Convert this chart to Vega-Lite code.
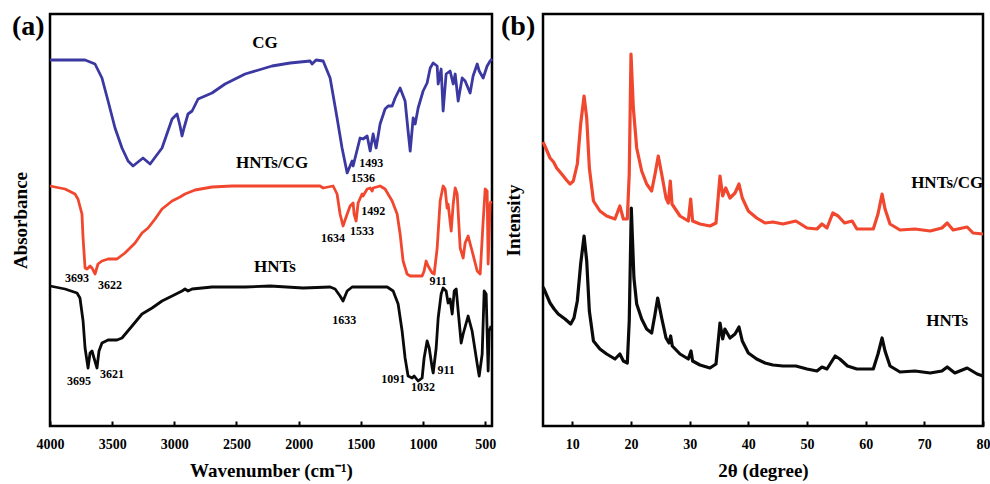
{
  "$schema": "https://vega.github.io/schema/vega-lite/v6.json",
  "background": "white",
  "padding": {"left": 9, "top": 11, "right": 5, "bottom": 5},
  "bounds": "flush",
  "spacing": 51,
  "config": {
    "view": {"stroke": "black", "strokeWidth": 2.5},
    "font": "Liberation Serif",
    "axis": {
      "grid": false,
      "domain": false,
      "labelFont": "Liberation Serif",
      "labelFontWeight": "bold",
      "labelFontSize": 14,
      "labelColor": "black",
      "titleFont": "Liberation Serif",
      "titleFontWeight": "bold",
      "titleFontSize": 19,
      "titleColor": "black"
    },
    "title": {"font": "Liberation Serif", "fontWeight": "bold", "fontSize": 28, "color": "black"}
  },
  "datasets": {
    "ftir": [
      {"wavenumber": 4000, "absorbance": 366, "sample": "CG"},
      {"wavenumber": 3718, "absorbance": 366, "sample": "CG"},
      {"wavenumber": 3638, "absorbance": 362, "sample": "CG"},
      {"wavenumber": 3582, "absorbance": 348, "sample": "CG"},
      {"wavenumber": 3533, "absorbance": 325, "sample": "CG"},
      {"wavenumber": 3477, "absorbance": 298, "sample": "CG"},
      {"wavenumber": 3421, "absorbance": 278, "sample": "CG"},
      {"wavenumber": 3372, "absorbance": 265, "sample": "CG"},
      {"wavenumber": 3332, "absorbance": 260, "sample": "CG"},
      {"wavenumber": 3252, "absorbance": 268, "sample": "CG"},
      {"wavenumber": 3195, "absorbance": 262, "sample": "CG"},
      {"wavenumber": 3147, "absorbance": 270, "sample": "CG"},
      {"wavenumber": 3099, "absorbance": 278, "sample": "CG"},
      {"wavenumber": 3018, "absorbance": 307, "sample": "CG"},
      {"wavenumber": 2978, "absorbance": 312, "sample": "CG"},
      {"wavenumber": 2954, "absorbance": 300, "sample": "CG"},
      {"wavenumber": 2938, "absorbance": 290, "sample": "CG"},
      {"wavenumber": 2922, "absorbance": 298, "sample": "CG"},
      {"wavenumber": 2890, "absorbance": 312, "sample": "CG"},
      {"wavenumber": 2857, "absorbance": 315, "sample": "CG"},
      {"wavenumber": 2809, "absorbance": 327, "sample": "CG"},
      {"wavenumber": 2697, "absorbance": 333, "sample": "CG"},
      {"wavenumber": 2592, "absorbance": 342, "sample": "CG"},
      {"wavenumber": 2431, "absorbance": 352, "sample": "CG"},
      {"wavenumber": 2214, "absorbance": 360, "sample": "CG"},
      {"wavenumber": 2069, "absorbance": 363, "sample": "CG"},
      {"wavenumber": 1908, "absorbance": 365, "sample": "CG"},
      {"wavenumber": 1892, "absorbance": 362, "sample": "CG"},
      {"wavenumber": 1860, "absorbance": 366, "sample": "CG"},
      {"wavenumber": 1803, "absorbance": 365, "sample": "CG"},
      {"wavenumber": 1747, "absorbance": 348, "sample": "CG"},
      {"wavenumber": 1691, "absorbance": 308, "sample": "CG"},
      {"wavenumber": 1651, "absorbance": 278, "sample": "CG"},
      {"wavenumber": 1610, "absorbance": 253, "sample": "CG"},
      {"wavenumber": 1570, "absorbance": 265, "sample": "CG"},
      {"wavenumber": 1562, "absorbance": 260, "sample": "CG"},
      {"wavenumber": 1506, "absorbance": 288, "sample": "CG"},
      {"wavenumber": 1482, "absorbance": 287, "sample": "CG"},
      {"wavenumber": 1449, "absorbance": 290, "sample": "CG"},
      {"wavenumber": 1425, "absorbance": 275, "sample": "CG"},
      {"wavenumber": 1401, "absorbance": 292, "sample": "CG"},
      {"wavenumber": 1377, "absorbance": 278, "sample": "CG"},
      {"wavenumber": 1345, "absorbance": 302, "sample": "CG"},
      {"wavenumber": 1305, "absorbance": 317, "sample": "CG"},
      {"wavenumber": 1280, "absorbance": 320, "sample": "CG"},
      {"wavenumber": 1248, "absorbance": 320, "sample": "CG"},
      {"wavenumber": 1224, "absorbance": 328, "sample": "CG"},
      {"wavenumber": 1184, "absorbance": 338, "sample": "CG"},
      {"wavenumber": 1144, "absorbance": 325, "sample": "CG"},
      {"wavenumber": 1120, "absorbance": 295, "sample": "CG"},
      {"wavenumber": 1103, "absorbance": 275, "sample": "CG"},
      {"wavenumber": 1079, "absorbance": 308, "sample": "CG"},
      {"wavenumber": 1063, "absorbance": 302, "sample": "CG"},
      {"wavenumber": 1039, "absorbance": 318, "sample": "CG"},
      {"wavenumber": 999, "absorbance": 335, "sample": "CG"},
      {"wavenumber": 967, "absorbance": 343, "sample": "CG"},
      {"wavenumber": 942, "absorbance": 358, "sample": "CG"},
      {"wavenumber": 918, "absorbance": 363, "sample": "CG"},
      {"wavenumber": 886, "absorbance": 360, "sample": "CG"},
      {"wavenumber": 878, "absorbance": 342, "sample": "CG"},
      {"wavenumber": 854, "absorbance": 357, "sample": "CG"},
      {"wavenumber": 838, "absorbance": 315, "sample": "CG"},
      {"wavenumber": 814, "absorbance": 352, "sample": "CG"},
      {"wavenumber": 782, "absorbance": 355, "sample": "CG"},
      {"wavenumber": 757, "absorbance": 342, "sample": "CG"},
      {"wavenumber": 741, "absorbance": 352, "sample": "CG"},
      {"wavenumber": 717, "absorbance": 325, "sample": "CG"},
      {"wavenumber": 685, "absorbance": 348, "sample": "CG"},
      {"wavenumber": 661, "absorbance": 345, "sample": "CG"},
      {"wavenumber": 621, "absorbance": 333, "sample": "CG"},
      {"wavenumber": 597, "absorbance": 350, "sample": "CG"},
      {"wavenumber": 564, "absorbance": 362, "sample": "CG"},
      {"wavenumber": 548, "absorbance": 355, "sample": "CG"},
      {"wavenumber": 516, "absorbance": 348, "sample": "CG"},
      {"wavenumber": 484, "absorbance": 360, "sample": "CG"},
      {"wavenumber": 460, "absorbance": 365, "sample": "CG"},
      {"wavenumber": 445, "absorbance": 367, "sample": "CG"},

      {"wavenumber": 4000, "absorbance": 240, "sample": "HNTs/CG"},
      {"wavenumber": 3879, "absorbance": 237, "sample": "HNTs/CG"},
      {"wavenumber": 3799, "absorbance": 232, "sample": "HNTs/CG"},
      {"wavenumber": 3775, "absorbance": 227, "sample": "HNTs/CG"},
      {"wavenumber": 3743, "absorbance": 212, "sample": "HNTs/CG"},
      {"wavenumber": 3734, "absorbance": 188, "sample": "HNTs/CG"},
      {"wavenumber": 3718, "absorbance": 158, "sample": "HNTs/CG"},
      {"wavenumber": 3702, "absorbance": 157, "sample": "HNTs/CG"},
      {"wavenumber": 3678, "absorbance": 160, "sample": "HNTs/CG"},
      {"wavenumber": 3662, "absorbance": 158, "sample": "HNTs/CG"},
      {"wavenumber": 3638, "absorbance": 152, "sample": "HNTs/CG"},
      {"wavenumber": 3614, "absorbance": 162, "sample": "HNTs/CG"},
      {"wavenumber": 3582, "absorbance": 165, "sample": "HNTs/CG"},
      {"wavenumber": 3533, "absorbance": 167, "sample": "HNTs/CG"},
      {"wavenumber": 3461, "absorbance": 167, "sample": "HNTs/CG"},
      {"wavenumber": 3397, "absorbance": 173, "sample": "HNTs/CG"},
      {"wavenumber": 3316, "absorbance": 183, "sample": "HNTs/CG"},
      {"wavenumber": 3260, "absorbance": 193, "sample": "HNTs/CG"},
      {"wavenumber": 3211, "absorbance": 198, "sample": "HNTs/CG"},
      {"wavenumber": 3155, "absorbance": 207, "sample": "HNTs/CG"},
      {"wavenumber": 3099, "absorbance": 217, "sample": "HNTs/CG"},
      {"wavenumber": 3018, "absorbance": 225, "sample": "HNTs/CG"},
      {"wavenumber": 2954, "absorbance": 229, "sample": "HNTs/CG"},
      {"wavenumber": 2914, "absorbance": 232, "sample": "HNTs/CG"},
      {"wavenumber": 2833, "absorbance": 236, "sample": "HNTs/CG"},
      {"wavenumber": 2697, "absorbance": 239, "sample": "HNTs/CG"},
      {"wavenumber": 2536, "absorbance": 240, "sample": "HNTs/CG"},
      {"wavenumber": 2230, "absorbance": 240, "sample": "HNTs/CG"},
      {"wavenumber": 1828, "absorbance": 240, "sample": "HNTs/CG"},
      {"wavenumber": 1803, "absorbance": 238, "sample": "HNTs/CG"},
      {"wavenumber": 1723, "absorbance": 240, "sample": "HNTs/CG"},
      {"wavenumber": 1691, "absorbance": 232, "sample": "HNTs/CG"},
      {"wavenumber": 1667, "absorbance": 212, "sample": "HNTs/CG"},
      {"wavenumber": 1643, "absorbance": 200, "sample": "HNTs/CG"},
      {"wavenumber": 1610, "absorbance": 212, "sample": "HNTs/CG"},
      {"wavenumber": 1586, "absorbance": 220, "sample": "HNTs/CG"},
      {"wavenumber": 1562, "absorbance": 223, "sample": "HNTs/CG"},
      {"wavenumber": 1554, "absorbance": 212, "sample": "HNTs/CG"},
      {"wavenumber": 1538, "absorbance": 205, "sample": "HNTs/CG"},
      {"wavenumber": 1522, "absorbance": 223, "sample": "HNTs/CG"},
      {"wavenumber": 1490, "absorbance": 232, "sample": "HNTs/CG"},
      {"wavenumber": 1482, "absorbance": 230, "sample": "HNTs/CG"},
      {"wavenumber": 1449, "absorbance": 237, "sample": "HNTs/CG"},
      {"wavenumber": 1425, "absorbance": 238, "sample": "HNTs/CG"},
      {"wavenumber": 1409, "absorbance": 235, "sample": "HNTs/CG"},
      {"wavenumber": 1401, "absorbance": 238, "sample": "HNTs/CG"},
      {"wavenumber": 1345, "absorbance": 240, "sample": "HNTs/CG"},
      {"wavenumber": 1305, "absorbance": 237, "sample": "HNTs/CG"},
      {"wavenumber": 1248, "absorbance": 225, "sample": "HNTs/CG"},
      {"wavenumber": 1208, "absorbance": 212, "sample": "HNTs/CG"},
      {"wavenumber": 1184, "absorbance": 192, "sample": "HNTs/CG"},
      {"wavenumber": 1160, "absorbance": 165, "sample": "HNTs/CG"},
      {"wavenumber": 1128, "absorbance": 152, "sample": "HNTs/CG"},
      {"wavenumber": 1103, "absorbance": 150, "sample": "HNTs/CG"},
      {"wavenumber": 1007, "absorbance": 150, "sample": "HNTs/CG"},
      {"wavenumber": 991, "absorbance": 155, "sample": "HNTs/CG"},
      {"wavenumber": 975, "absorbance": 165, "sample": "HNTs/CG"},
      {"wavenumber": 959, "absorbance": 160, "sample": "HNTs/CG"},
      {"wavenumber": 926, "absorbance": 153, "sample": "HNTs/CG"},
      {"wavenumber": 910, "absorbance": 152, "sample": "HNTs/CG"},
      {"wavenumber": 886, "absorbance": 178, "sample": "HNTs/CG"},
      {"wavenumber": 862, "absorbance": 225, "sample": "HNTs/CG"},
      {"wavenumber": 838, "absorbance": 240, "sample": "HNTs/CG"},
      {"wavenumber": 822, "absorbance": 237, "sample": "HNTs/CG"},
      {"wavenumber": 806, "absorbance": 218, "sample": "HNTs/CG"},
      {"wavenumber": 798, "absorbance": 222, "sample": "HNTs/CG"},
      {"wavenumber": 773, "absorbance": 195, "sample": "HNTs/CG"},
      {"wavenumber": 757, "absorbance": 222, "sample": "HNTs/CG"},
      {"wavenumber": 741, "absorbance": 238, "sample": "HNTs/CG"},
      {"wavenumber": 725, "absorbance": 232, "sample": "HNTs/CG"},
      {"wavenumber": 701, "absorbance": 178, "sample": "HNTs/CG"},
      {"wavenumber": 677, "absorbance": 168, "sample": "HNTs/CG"},
      {"wavenumber": 661, "absorbance": 183, "sample": "HNTs/CG"},
      {"wavenumber": 637, "absorbance": 190, "sample": "HNTs/CG"},
      {"wavenumber": 605, "absorbance": 175, "sample": "HNTs/CG"},
      {"wavenumber": 564, "absorbance": 155, "sample": "HNTs/CG"},
      {"wavenumber": 540, "absorbance": 152, "sample": "HNTs/CG"},
      {"wavenumber": 516, "absorbance": 205, "sample": "HNTs/CG"},
      {"wavenumber": 500, "absorbance": 237, "sample": "HNTs/CG"},
      {"wavenumber": 484, "absorbance": 235, "sample": "HNTs/CG"},
      {"wavenumber": 476, "absorbance": 162, "sample": "HNTs/CG"},
      {"wavenumber": 460, "absorbance": 222, "sample": "HNTs/CG"},
      {"wavenumber": 452, "absorbance": 225, "sample": "HNTs/CG"},

      {"wavenumber": 4000, "absorbance": 140, "sample": "HNTs"},
      {"wavenumber": 3879, "absorbance": 137, "sample": "HNTs"},
      {"wavenumber": 3783, "absorbance": 133, "sample": "HNTs"},
      {"wavenumber": 3759, "absorbance": 128, "sample": "HNTs"},
      {"wavenumber": 3734, "absorbance": 105, "sample": "HNTs"},
      {"wavenumber": 3718, "absorbance": 78, "sample": "HNTs"},
      {"wavenumber": 3694, "absorbance": 58, "sample": "HNTs"},
      {"wavenumber": 3678, "absorbance": 73, "sample": "HNTs"},
      {"wavenumber": 3662, "absorbance": 75, "sample": "HNTs"},
      {"wavenumber": 3646, "absorbance": 68, "sample": "HNTs"},
      {"wavenumber": 3622, "absorbance": 58, "sample": "HNTs"},
      {"wavenumber": 3606, "absorbance": 75, "sample": "HNTs"},
      {"wavenumber": 3582, "absorbance": 83, "sample": "HNTs"},
      {"wavenumber": 3533, "absorbance": 86, "sample": "HNTs"},
      {"wavenumber": 3461, "absorbance": 86, "sample": "HNTs"},
      {"wavenumber": 3421, "absorbance": 88, "sample": "HNTs"},
      {"wavenumber": 3340, "absorbance": 100, "sample": "HNTs"},
      {"wavenumber": 3260, "absorbance": 112, "sample": "HNTs"},
      {"wavenumber": 3179, "absorbance": 118, "sample": "HNTs"},
      {"wavenumber": 3099, "absorbance": 125, "sample": "HNTs"},
      {"wavenumber": 3018, "absorbance": 130, "sample": "HNTs"},
      {"wavenumber": 2938, "absorbance": 135, "sample": "HNTs"},
      {"wavenumber": 2914, "absorbance": 137, "sample": "HNTs"},
      {"wavenumber": 2890, "absorbance": 135, "sample": "HNTs"},
      {"wavenumber": 2857, "absorbance": 137, "sample": "HNTs"},
      {"wavenumber": 2697, "absorbance": 139, "sample": "HNTs"},
      {"wavenumber": 2431, "absorbance": 139, "sample": "HNTs"},
      {"wavenumber": 2230, "absorbance": 140, "sample": "HNTs"},
      {"wavenumber": 1964, "absorbance": 138, "sample": "HNTs"},
      {"wavenumber": 1747, "absorbance": 139, "sample": "HNTs"},
      {"wavenumber": 1707, "absorbance": 137, "sample": "HNTs"},
      {"wavenumber": 1667, "absorbance": 130, "sample": "HNTs"},
      {"wavenumber": 1643, "absorbance": 125, "sample": "HNTs"},
      {"wavenumber": 1610, "absorbance": 135, "sample": "HNTs"},
      {"wavenumber": 1570, "absorbance": 139, "sample": "HNTs"},
      {"wavenumber": 1288, "absorbance": 139, "sample": "HNTs"},
      {"wavenumber": 1240, "absorbance": 135, "sample": "HNTs"},
      {"wavenumber": 1200, "absorbance": 122, "sample": "HNTs"},
      {"wavenumber": 1168, "absorbance": 95, "sample": "HNTs"},
      {"wavenumber": 1144, "absorbance": 68, "sample": "HNTs"},
      {"wavenumber": 1120, "absorbance": 50, "sample": "HNTs"},
      {"wavenumber": 1087, "absorbance": 48, "sample": "HNTs"},
      {"wavenumber": 1071, "absorbance": 50, "sample": "HNTs"},
      {"wavenumber": 1039, "absorbance": 45, "sample": "HNTs"},
      {"wavenumber": 1007, "absorbance": 48, "sample": "HNTs"},
      {"wavenumber": 991, "absorbance": 68, "sample": "HNTs"},
      {"wavenumber": 967, "absorbance": 85, "sample": "HNTs"},
      {"wavenumber": 950, "absorbance": 78, "sample": "HNTs"},
      {"wavenumber": 926, "absorbance": 58, "sample": "HNTs"},
      {"wavenumber": 918, "absorbance": 53, "sample": "HNTs"},
      {"wavenumber": 894, "absorbance": 78, "sample": "HNTs"},
      {"wavenumber": 878, "absorbance": 108, "sample": "HNTs"},
      {"wavenumber": 854, "absorbance": 132, "sample": "HNTs"},
      {"wavenumber": 838, "absorbance": 138, "sample": "HNTs"},
      {"wavenumber": 814, "absorbance": 135, "sample": "HNTs"},
      {"wavenumber": 798, "absorbance": 123, "sample": "HNTs"},
      {"wavenumber": 782, "absorbance": 127, "sample": "HNTs"},
      {"wavenumber": 765, "absorbance": 112, "sample": "HNTs"},
      {"wavenumber": 749, "absorbance": 135, "sample": "HNTs"},
      {"wavenumber": 733, "absorbance": 137, "sample": "HNTs"},
      {"wavenumber": 717, "absorbance": 115, "sample": "HNTs"},
      {"wavenumber": 693, "absorbance": 83, "sample": "HNTs"},
      {"wavenumber": 677, "absorbance": 92, "sample": "HNTs"},
      {"wavenumber": 637, "absorbance": 110, "sample": "HNTs"},
      {"wavenumber": 605, "absorbance": 95, "sample": "HNTs"},
      {"wavenumber": 564, "absorbance": 62, "sample": "HNTs"},
      {"wavenumber": 548, "absorbance": 50, "sample": "HNTs"},
      {"wavenumber": 524, "absorbance": 72, "sample": "HNTs"},
      {"wavenumber": 508, "absorbance": 135, "sample": "HNTs"},
      {"wavenumber": 492, "absorbance": 132, "sample": "HNTs"},
      {"wavenumber": 476, "absorbance": 55, "sample": "HNTs"},
      {"wavenumber": 468, "absorbance": 95, "sample": "HNTs"},
      {"wavenumber": 452, "absorbance": 100, "sample": "HNTs"}
    ],
    "ftirPeaks": [
      {"wavenumber": 1417, "absorbance": 263, "label": "1493"},
      {"wavenumber": 1482, "absorbance": 248, "label": "1536"},
      {"wavenumber": 1401, "absorbance": 215, "label": "1492"},
      {"wavenumber": 1490, "absorbance": 195, "label": "1533"},
      {"wavenumber": 1723, "absorbance": 188, "label": "1634"},
      {"wavenumber": 3783, "absorbance": 148, "label": "3693"},
      {"wavenumber": 3517, "absorbance": 141, "label": "3622"},
      {"wavenumber": 878, "absorbance": 145, "label": "911"},
      {"wavenumber": 1634, "absorbance": 106, "label": "1633"},
      {"wavenumber": 3767, "absorbance": 45, "label": "3695"},
      {"wavenumber": 3501, "absorbance": 52, "label": "3621"},
      {"wavenumber": 1240, "absorbance": 47, "label": "1091"},
      {"wavenumber": 999, "absorbance": 39, "label": "1032"},
      {"wavenumber": 814, "absorbance": 56, "label": "911"}
    ],
    "ftirNames": [
      {"wavenumber": 2270, "absorbance": 383, "label": "CG"},
      {"wavenumber": 2214, "absorbance": 263, "label": "HNTs/CG"},
      {"wavenumber": 2190, "absorbance": 159, "label": "HNTs"}
    ],
    "xrd": [
      {"theta": 5.0, "intensity": 284, "sample": "HNTs/CG"},
      {"theta": 5.17, "intensity": 282, "sample": "HNTs/CG"},
      {"theta": 6.2, "intensity": 268, "sample": "HNTs/CG"},
      {"theta": 6.8, "intensity": 264, "sample": "HNTs/CG"},
      {"theta": 7.33, "intensity": 258, "sample": "HNTs/CG"},
      {"theta": 7.9, "intensity": 254, "sample": "HNTs/CG"},
      {"theta": 8.46, "intensity": 250, "sample": "HNTs/CG"},
      {"theta": 9.0, "intensity": 246, "sample": "HNTs/CG"},
      {"theta": 9.6, "intensity": 242, "sample": "HNTs/CG"},
      {"theta": 10.17, "intensity": 245, "sample": "HNTs/CG"},
      {"theta": 10.85, "intensity": 262, "sample": "HNTs/CG"},
      {"theta": 11.42, "intensity": 302, "sample": "HNTs/CG"},
      {"theta": 12.0, "intensity": 330, "sample": "HNTs/CG"},
      {"theta": 12.45, "intensity": 308, "sample": "HNTs/CG"},
      {"theta": 12.9, "intensity": 258, "sample": "HNTs/CG"},
      {"theta": 13.6, "intensity": 225, "sample": "HNTs/CG"},
      {"theta": 14.7, "intensity": 215, "sample": "HNTs/CG"},
      {"theta": 15.85, "intensity": 210, "sample": "HNTs/CG"},
      {"theta": 17.27, "intensity": 207, "sample": "HNTs/CG"},
      {"theta": 18.1, "intensity": 220, "sample": "HNTs/CG"},
      {"theta": 18.7, "intensity": 207, "sample": "HNTs/CG"},
      {"theta": 19.37, "intensity": 207, "sample": "HNTs/CG"},
      {"theta": 19.7, "intensity": 252, "sample": "HNTs/CG"},
      {"theta": 20.0, "intensity": 372, "sample": "HNTs/CG"},
      {"theta": 20.4, "intensity": 318, "sample": "HNTs/CG"},
      {"theta": 20.97, "intensity": 278, "sample": "HNTs/CG"},
      {"theta": 21.82, "intensity": 255, "sample": "HNTs/CG"},
      {"theta": 22.67, "intensity": 242, "sample": "HNTs/CG"},
      {"theta": 23.52, "intensity": 235, "sample": "HNTs/CG"},
      {"theta": 24.1, "intensity": 252, "sample": "HNTs/CG"},
      {"theta": 24.65, "intensity": 270, "sample": "HNTs/CG"},
      {"theta": 25.23, "intensity": 252, "sample": "HNTs/CG"},
      {"theta": 25.97, "intensity": 228, "sample": "HNTs/CG"},
      {"theta": 26.36, "intensity": 223, "sample": "HNTs/CG"},
      {"theta": 26.7, "intensity": 245, "sample": "HNTs/CG"},
      {"theta": 26.99, "intensity": 222, "sample": "HNTs/CG"},
      {"theta": 28.35, "intensity": 210, "sample": "HNTs/CG"},
      {"theta": 29.77, "intensity": 205, "sample": "HNTs/CG"},
      {"theta": 30.17, "intensity": 227, "sample": "HNTs/CG"},
      {"theta": 30.5, "intensity": 205, "sample": "HNTs/CG"},
      {"theta": 31.76, "intensity": 202, "sample": "HNTs/CG"},
      {"theta": 33.46, "intensity": 200, "sample": "HNTs/CG"},
      {"theta": 34.49, "intensity": 203, "sample": "HNTs/CG"},
      {"theta": 35.17, "intensity": 250, "sample": "HNTs/CG"},
      {"theta": 35.63, "intensity": 230, "sample": "HNTs/CG"},
      {"theta": 36.14, "intensity": 238, "sample": "HNTs/CG"},
      {"theta": 36.87, "intensity": 228, "sample": "HNTs/CG"},
      {"theta": 37.73, "intensity": 233, "sample": "HNTs/CG"},
      {"theta": 38.41, "intensity": 242, "sample": "HNTs/CG"},
      {"theta": 38.97, "intensity": 228, "sample": "HNTs/CG"},
      {"theta": 40.0, "intensity": 215, "sample": "HNTs/CG"},
      {"theta": 41.42, "intensity": 208, "sample": "HNTs/CG"},
      {"theta": 42.84, "intensity": 203, "sample": "HNTs/CG"},
      {"theta": 44.2, "intensity": 204, "sample": "HNTs/CG"},
      {"theta": 45.9, "intensity": 202, "sample": "HNTs/CG"},
      {"theta": 48.1, "intensity": 205, "sample": "HNTs/CG"},
      {"theta": 50.0, "intensity": 198, "sample": "HNTs/CG"},
      {"theta": 51.7, "intensity": 197, "sample": "HNTs/CG"},
      {"theta": 52.55, "intensity": 202, "sample": "HNTs/CG"},
      {"theta": 53.4, "intensity": 198, "sample": "HNTs/CG"},
      {"theta": 54.4, "intensity": 213, "sample": "HNTs/CG"},
      {"theta": 55.3, "intensity": 210, "sample": "HNTs/CG"},
      {"theta": 56.4, "intensity": 203, "sample": "HNTs/CG"},
      {"theta": 57.7, "intensity": 205, "sample": "HNTs/CG"},
      {"theta": 58.5, "intensity": 197, "sample": "HNTs/CG"},
      {"theta": 61.3, "intensity": 197, "sample": "HNTs/CG"},
      {"theta": 62.1, "intensity": 212, "sample": "HNTs/CG"},
      {"theta": 62.8, "intensity": 232, "sample": "HNTs/CG"},
      {"theta": 63.3, "intensity": 217, "sample": "HNTs/CG"},
      {"theta": 64.15, "intensity": 202, "sample": "HNTs/CG"},
      {"theta": 65.85, "intensity": 196, "sample": "HNTs/CG"},
      {"theta": 68.4, "intensity": 197, "sample": "HNTs/CG"},
      {"theta": 71.0, "intensity": 195, "sample": "HNTs/CG"},
      {"theta": 73.0, "intensity": 198, "sample": "HNTs/CG"},
      {"theta": 73.9, "intensity": 203, "sample": "HNTs/CG"},
      {"theta": 74.9, "intensity": 196, "sample": "HNTs/CG"},
      {"theta": 77.3, "intensity": 199, "sample": "HNTs/CG"},
      {"theta": 78.3, "intensity": 193, "sample": "HNTs/CG"},
      {"theta": 80.0, "intensity": 192, "sample": "HNTs/CG"},

      {"theta": 5.0, "intensity": 139, "sample": "HNTs"},
      {"theta": 5.17, "intensity": 137, "sample": "HNTs"},
      {"theta": 6.2, "intensity": 123, "sample": "HNTs"},
      {"theta": 6.9, "intensity": 117, "sample": "HNTs"},
      {"theta": 7.6, "intensity": 112, "sample": "HNTs"},
      {"theta": 8.75, "intensity": 107, "sample": "HNTs"},
      {"theta": 9.72, "intensity": 102, "sample": "HNTs"},
      {"theta": 10.28, "intensity": 108, "sample": "HNTs"},
      {"theta": 10.85, "intensity": 125, "sample": "HNTs"},
      {"theta": 11.42, "intensity": 162, "sample": "HNTs"},
      {"theta": 12.0, "intensity": 190, "sample": "HNTs"},
      {"theta": 12.45, "intensity": 165, "sample": "HNTs"},
      {"theta": 12.9, "intensity": 115, "sample": "HNTs"},
      {"theta": 13.6, "intensity": 85, "sample": "HNTs"},
      {"theta": 14.7, "intensity": 77, "sample": "HNTs"},
      {"theta": 15.85, "intensity": 72, "sample": "HNTs"},
      {"theta": 17.27, "intensity": 67, "sample": "HNTs"},
      {"theta": 18.1, "intensity": 72, "sample": "HNTs"},
      {"theta": 18.7, "intensity": 65, "sample": "HNTs"},
      {"theta": 19.37, "intensity": 63, "sample": "HNTs"},
      {"theta": 19.7, "intensity": 105, "sample": "HNTs"},
      {"theta": 20.05, "intensity": 218, "sample": "HNTs"},
      {"theta": 20.5, "intensity": 148, "sample": "HNTs"},
      {"theta": 20.97, "intensity": 122, "sample": "HNTs"},
      {"theta": 21.82, "intensity": 107, "sample": "HNTs"},
      {"theta": 22.67, "intensity": 97, "sample": "HNTs"},
      {"theta": 23.52, "intensity": 93, "sample": "HNTs"},
      {"theta": 24.1, "intensity": 112, "sample": "HNTs"},
      {"theta": 24.55, "intensity": 128, "sample": "HNTs"},
      {"theta": 25.23, "intensity": 108, "sample": "HNTs"},
      {"theta": 25.97, "intensity": 88, "sample": "HNTs"},
      {"theta": 26.48, "intensity": 83, "sample": "HNTs"},
      {"theta": 26.76, "intensity": 90, "sample": "HNTs"},
      {"theta": 27.04, "intensity": 80, "sample": "HNTs"},
      {"theta": 28.35, "intensity": 72, "sample": "HNTs"},
      {"theta": 29.77, "intensity": 67, "sample": "HNTs"},
      {"theta": 30.23, "intensity": 75, "sample": "HNTs"},
      {"theta": 30.5, "intensity": 65, "sample": "HNTs"},
      {"theta": 31.76, "intensity": 61, "sample": "HNTs"},
      {"theta": 33.46, "intensity": 58, "sample": "HNTs"},
      {"theta": 34.49, "intensity": 62, "sample": "HNTs"},
      {"theta": 35.17, "intensity": 103, "sample": "HNTs"},
      {"theta": 35.63, "intensity": 87, "sample": "HNTs"},
      {"theta": 36.0, "intensity": 97, "sample": "HNTs"},
      {"theta": 36.87, "intensity": 88, "sample": "HNTs"},
      {"theta": 37.73, "intensity": 92, "sample": "HNTs"},
      {"theta": 38.41, "intensity": 99, "sample": "HNTs"},
      {"theta": 38.97, "intensity": 85, "sample": "HNTs"},
      {"theta": 40.0, "intensity": 73, "sample": "HNTs"},
      {"theta": 41.42, "intensity": 67, "sample": "HNTs"},
      {"theta": 42.84, "intensity": 63, "sample": "HNTs"},
      {"theta": 44.2, "intensity": 61, "sample": "HNTs"},
      {"theta": 45.9, "intensity": 60, "sample": "HNTs"},
      {"theta": 48.1, "intensity": 60, "sample": "HNTs"},
      {"theta": 50.0, "intensity": 57, "sample": "HNTs"},
      {"theta": 51.7, "intensity": 55, "sample": "HNTs"},
      {"theta": 52.55, "intensity": 59, "sample": "HNTs"},
      {"theta": 53.4, "intensity": 57, "sample": "HNTs"},
      {"theta": 54.8, "intensity": 70, "sample": "HNTs"},
      {"theta": 55.6, "intensity": 67, "sample": "HNTs"},
      {"theta": 56.9, "intensity": 60, "sample": "HNTs"},
      {"theta": 58.5, "intensity": 57, "sample": "HNTs"},
      {"theta": 61.3, "intensity": 57, "sample": "HNTs"},
      {"theta": 62.1, "intensity": 72, "sample": "HNTs"},
      {"theta": 62.8, "intensity": 88, "sample": "HNTs"},
      {"theta": 63.3, "intensity": 75, "sample": "HNTs"},
      {"theta": 64.15, "intensity": 60, "sample": "HNTs"},
      {"theta": 65.85, "intensity": 54, "sample": "HNTs"},
      {"theta": 68.4, "intensity": 55, "sample": "HNTs"},
      {"theta": 71.0, "intensity": 53, "sample": "HNTs"},
      {"theta": 73.0, "intensity": 55, "sample": "HNTs"},
      {"theta": 73.9, "intensity": 59, "sample": "HNTs"},
      {"theta": 75.2, "intensity": 53, "sample": "HNTs"},
      {"theta": 77.3, "intensity": 58, "sample": "HNTs"},
      {"theta": 79.0, "intensity": 52, "sample": "HNTs"},
      {"theta": 80.0, "intensity": 50, "sample": "HNTs"}
    ],
    "xrdNames": [
      {"theta": 73.9, "intensity": 243, "label": "HNTs/CG"},
      {"theta": 73.9, "intensity": 105, "label": "HNTs"}
    ]
  },
  "hconcat": [
    {
      "width": 442,
      "height": 412,
      "title": {"text": "(a)", "anchor": "start", "frame": "group", "dx": -38, "dy": 27, "offset": 0},
      "layer": [
        {
          "data": {"name": "ftir"},
          "mark": {"type": "line", "strokeWidth": 2.8, "strokeJoin": "round"},
          "encoding": {
            "x": {
              "field": "wavenumber", "type": "quantitative",
              "scale": {"domain": [445, 4000], "reverse": true, "nice": false, "zero": false},
              "axis": {
                "title": "Wavenumber (cm⁻¹)",
                "values": [4000, 3750, 3500, 3250, 3000, 2750, 2500, 2250, 2000, 1750, 1500, 1250, 1000, 750, 500],
                "format": "d",
                "labelExpr": "datum.value % 500 === 0 ? datum.label : ''",
                "tickSize": -5, "tickWidth": 2, "tickColor": "black",
                "labelPadding": 16, "labelFlush": false, "labelOverlap": false,
                "titlePadding": 10
              }
            },
            "y": {
              "field": "absorbance", "type": "quantitative",
              "scale": {"domain": [0, 412], "nice": false, "zero": false},
              "axis": {"title": "Absorbance", "labels": false, "ticks": false, "titlePadding": 20}
            },
            "color": {
              "field": "sample", "type": "nominal",
              "scale": {"domain": ["CG", "HNTs/CG", "HNTs"], "range": ["#3b38a2", "#f1472e", "#0a0a0a"]},
              "legend": null
            }
          }
        },
        {
          "data": {"name": "ftirPeaks"},
          "mark": {"type": "text", "fontSize": 12, "fontWeight": "bold", "font": "Liberation Serif", "color": "black", "align": "center", "baseline": "middle"},
          "encoding": {
            "x": {"field": "wavenumber", "type": "quantitative"},
            "y": {"field": "absorbance", "type": "quantitative"},
            "text": {"field": "label"}
          }
        },
        {
          "data": {"name": "ftirNames"},
          "mark": {"type": "text", "fontSize": 17, "fontWeight": "bold", "font": "Liberation Serif", "color": "black", "align": "center", "baseline": "middle"},
          "encoding": {
            "x": {"field": "wavenumber", "type": "quantitative"},
            "y": {"field": "absorbance", "type": "quantitative"},
            "text": {"field": "label"}
          }
        }
      ]
    },
    {
      "width": 440,
      "height": 412,
      "title": {"text": "(b)", "anchor": "start", "frame": "group", "dx": -42, "dy": 27, "offset": 0},
      "layer": [
        {
          "data": {"name": "xrd"},
          "mark": {"type": "line", "strokeWidth": 3.2, "strokeJoin": "round"},
          "encoding": {
            "x": {
              "field": "theta", "type": "quantitative",
              "scale": {"domain": [5, 80], "nice": false, "zero": false},
              "axis": {
                "title": "2θ (degree)",
                "values": [10, 15, 20, 25, 30, 35, 40, 45, 50, 55, 60, 65, 70, 75, 80],
                "labelExpr": "datum.value % 10 === 0 ? datum.label : ''",
                "tickSize": -5, "tickWidth": 2, "tickColor": "black",
                "labelPadding": 16, "labelFlush": false, "labelOverlap": false,
                "titlePadding": 10
              }
            },
            "y": {
              "field": "intensity", "type": "quantitative",
              "scale": {"domain": [0, 412], "nice": false, "zero": false},
              "axis": {"title": "Intensity", "labels": false, "ticks": false, "titlePadding": 20}
            },
            "color": {
              "field": "sample", "type": "nominal",
              "scale": {"domain": ["HNTs/CG", "HNTs"], "range": ["#f1472e", "#0a0a0a"]},
              "legend": null
            }
          }
        },
        {
          "data": {"name": "xrdNames"},
          "mark": {"type": "text", "fontSize": 17, "fontWeight": "bold", "font": "Liberation Serif", "color": "black", "align": "center", "baseline": "middle"},
          "encoding": {
            "x": {"field": "theta", "type": "quantitative"},
            "y": {"field": "intensity", "type": "quantitative"},
            "text": {"field": "label"}
          }
        }
      ]
    }
  ],
  "resolve": {"scale": {"color": "independent"}}
}
